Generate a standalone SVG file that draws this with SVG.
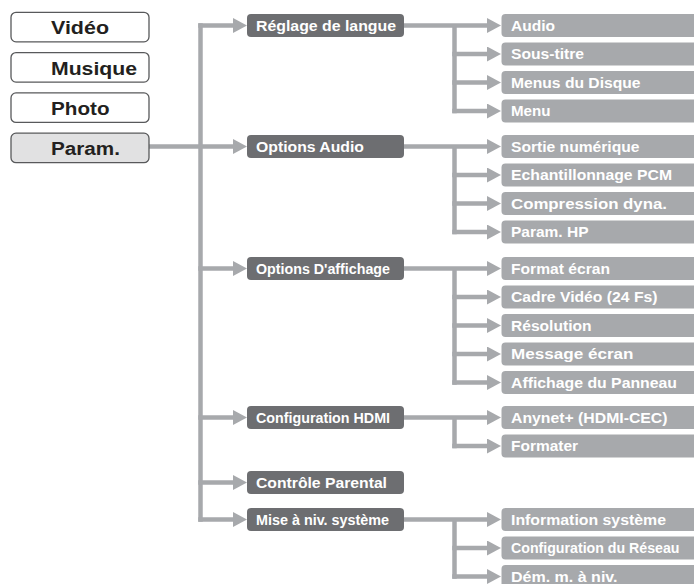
<svg xmlns="http://www.w3.org/2000/svg" width="694" height="584" viewBox="0 0 694 584">
<defs>
<marker id="ah" markerUnits="userSpaceOnUse" markerWidth="14" markerHeight="15" refX="0" refY="7.5" orient="auto">
<path d="M0,0 L14,7.5 L0,15 Z" fill="#a7a9ac"/>
</marker>
<style>
.ln{fill:none;stroke:#a7a9ac;stroke-width:4.5}
.ar{marker-end:url(#ah)}
.lb{fill:#ffffff;stroke:#58595b;stroke-width:1.3}
.lb.sel{fill:#e1e1e2}
.lt{font-family:"Liberation Sans",Arial,sans-serif;font-weight:bold;font-size:17.5px;fill:#231f20}
.mb{fill:#6d6e71}
.rb{fill:#a7a9ac}
.wt{font-family:"Liberation Sans",Arial,sans-serif;font-weight:bold;font-size:14px;fill:#ffffff}
</style>
</defs>
<rect width="694" height="584" fill="#ffffff"/>

<g id="connectors">
<path class="ln" d="M200.5,23.25 V521.75"/>
<path class="ln ar" d="M198.25,25.5 H233"/>
<path class="ln ar" d="M149,146.5 H233"/>
<path class="ln ar" d="M198.25,268.5 H233"/>
<path class="ln ar" d="M198.25,417.5 H233"/>
<path class="ln ar" d="M198.25,482.5 H233"/>
<path class="ln ar" d="M198.25,519.5 H233"/>

<path class="ln" d="M454.5,25.5 V113.25"/>
<path class="ln ar" d="M404,25.5 H487"/>
<path class="ln ar" d="M452.25,54 H487"/>
<path class="ln ar" d="M452.25,82.5 H487"/>
<path class="ln ar" d="M452.25,111 H487"/>

<path class="ln" d="M454.5,146.5 V234.25"/>
<path class="ln ar" d="M404,146.5 H487"/>
<path class="ln ar" d="M452.25,175 H487"/>
<path class="ln ar" d="M452.25,203.5 H487"/>
<path class="ln ar" d="M452.25,232 H487"/>

<path class="ln" d="M454.5,268.5 V384.75"/>
<path class="ln ar" d="M404,268.5 H487"/>
<path class="ln ar" d="M452.25,297 H487"/>
<path class="ln ar" d="M452.25,325.5 H487"/>
<path class="ln ar" d="M452.25,354 H487"/>
<path class="ln ar" d="M452.25,382.5 H487"/>

<path class="ln" d="M454.5,417.5 V448.25"/>
<path class="ln ar" d="M404,417.5 H487"/>
<path class="ln ar" d="M452.25,446 H487"/>

<path class="ln" d="M454.5,519.5 V578.75"/>
<path class="ln ar" d="M404,519.5 H487"/>
<path class="ln ar" d="M452.25,548 H487"/>
<path class="ln ar" d="M452.25,576.5 H487"/>
</g>

<g id="video"><rect class="lb" x="11" y="12.3" width="138" height="29.5" rx="5"/><text class="lt" x="51" y="34.3" textLength="58" lengthAdjust="spacingAndGlyphs">Vidéo</text></g>
<g id="musique"><rect class="lb" x="11" y="52.6" width="138" height="29.5" rx="5"/><text class="lt" x="51" y="74.6" textLength="86" lengthAdjust="spacingAndGlyphs">Musique</text></g>
<g id="photo"><rect class="lb" x="11" y="92.9" width="138" height="29.5" rx="5"/><text class="lt" x="51" y="114.9" textLength="58.5" lengthAdjust="spacingAndGlyphs">Photo</text></g>
<g id="param"><rect class="lb sel" x="11" y="133.2" width="138" height="29.5" rx="5"/><text class="lt" x="51" y="155.2" textLength="69" lengthAdjust="spacingAndGlyphs">Param.</text></g>

<g id="reglage-langue"><rect class="mb" x="247" y="14" width="157" height="23" rx="4"/><text class="wt" x="256" y="30.7" textLength="140" lengthAdjust="spacingAndGlyphs">Réglage de langue</text></g>
<g id="options-audio"><rect class="mb" x="247" y="135" width="157" height="23" rx="4"/><text class="wt" x="256" y="151.7" textLength="108" lengthAdjust="spacingAndGlyphs">Options Audio</text></g>
<g id="options-affichage"><rect class="mb" x="247" y="257" width="157" height="23" rx="4"/><text class="wt" x="256" y="273.7" textLength="134" lengthAdjust="spacingAndGlyphs">Options D'affichage</text></g>
<g id="config-hdmi"><rect class="mb" x="247" y="406" width="157" height="23" rx="4"/><text class="wt" x="256" y="422.7" textLength="134" lengthAdjust="spacingAndGlyphs">Configuration HDMI</text></g>
<g id="controle-parental"><rect class="mb" x="247" y="471" width="157" height="23" rx="4"/><text class="wt" x="256" y="487.7" textLength="131" lengthAdjust="spacingAndGlyphs">Contrôle Parental</text></g>
<g id="mise-a-niv"><rect class="mb" x="247" y="508" width="157" height="23" rx="4"/><text class="wt" x="256" y="524.7" textLength="133" lengthAdjust="spacingAndGlyphs">Mise à niv. système</text></g>

<g id="audio"><rect class="rb" x="501.5" y="14" width="210" height="23" rx="4"/><text class="wt" x="511" y="30.5" textLength="44" lengthAdjust="spacingAndGlyphs">Audio</text></g>
<g id="sous-titre"><rect class="rb" x="501.5" y="42.5" width="210" height="23" rx="4"/><text class="wt" x="511" y="59" textLength="73" lengthAdjust="spacingAndGlyphs">Sous-titre</text></g>
<g id="menus-disque"><rect class="rb" x="501.5" y="71" width="210" height="23" rx="4"/><text class="wt" x="511" y="87.5" textLength="129.5" lengthAdjust="spacingAndGlyphs">Menus du Disque</text></g>
<g id="menu"><rect class="rb" x="501.5" y="99.5" width="210" height="23" rx="4"/><text class="wt" x="511" y="116" textLength="39.5" lengthAdjust="spacingAndGlyphs">Menu</text></g>

<g id="sortie-numerique"><rect class="rb" x="501.5" y="135" width="210" height="23" rx="4"/><text class="wt" x="511" y="151.5" textLength="128.5" lengthAdjust="spacingAndGlyphs">Sortie numérique</text></g>
<g id="echantillonnage"><rect class="rb" x="501.5" y="163.5" width="210" height="23" rx="4"/><text class="wt" x="511" y="180" textLength="161" lengthAdjust="spacingAndGlyphs">Echantillonnage PCM</text></g>
<g id="compression"><rect class="rb" x="501.5" y="192" width="210" height="23" rx="4"/><text class="wt" x="511" y="208.5" textLength="156" lengthAdjust="spacingAndGlyphs">Compression dyna.</text></g>
<g id="param-hp"><rect class="rb" x="501.5" y="220.5" width="210" height="23" rx="4"/><text class="wt" x="511" y="237" textLength="77.5" lengthAdjust="spacingAndGlyphs">Param. HP</text></g>

<g id="format-ecran"><rect class="rb" x="501.5" y="257" width="210" height="23" rx="4"/><text class="wt" x="511" y="273.5" textLength="99" lengthAdjust="spacingAndGlyphs">Format écran</text></g>
<g id="cadre-video"><rect class="rb" x="501.5" y="285.5" width="210" height="23" rx="4"/><text class="wt" x="511" y="302" textLength="146.5" lengthAdjust="spacingAndGlyphs">Cadre Vidéo (24 Fs)</text></g>
<g id="resolution"><rect class="rb" x="501.5" y="314" width="210" height="23" rx="4"/><text class="wt" x="511" y="330.5" textLength="80.5" lengthAdjust="spacingAndGlyphs">Résolution</text></g>
<g id="message-ecran"><rect class="rb" x="501.5" y="342.5" width="210" height="23" rx="4"/><text class="wt" x="511" y="359" textLength="122.5" lengthAdjust="spacingAndGlyphs">Message écran</text></g>
<g id="affichage-panneau"><rect class="rb" x="501.5" y="371" width="210" height="23" rx="4"/><text class="wt" x="511" y="387.5" textLength="166" lengthAdjust="spacingAndGlyphs">Affichage du Panneau</text></g>

<g id="anynet"><rect class="rb" x="501.5" y="406" width="210" height="23" rx="4"/><text class="wt" x="511" y="422.5" textLength="156.5" lengthAdjust="spacingAndGlyphs">Anynet+ (HDMI-CEC)</text></g>
<g id="formater"><rect class="rb" x="501.5" y="434.5" width="210" height="23" rx="4"/><text class="wt" x="511" y="451" textLength="67" lengthAdjust="spacingAndGlyphs">Formater</text></g>

<g id="information-systeme"><rect class="rb" x="501.5" y="508" width="210" height="23" rx="4"/><text class="wt" x="511" y="524.5" textLength="155" lengthAdjust="spacingAndGlyphs">Information système</text></g>
<g id="config-reseau"><rect class="rb" x="501.5" y="536.5" width="210" height="23" rx="4"/><text class="wt" x="511" y="553" textLength="168.5" lengthAdjust="spacingAndGlyphs">Configuration du Réseau</text></g>
<g id="dem-maj"><rect class="rb" x="501.5" y="565" width="210" height="23" rx="4"/><text class="wt" x="511" y="581.5" textLength="106.5" lengthAdjust="spacingAndGlyphs">Dém. m. à niv.</text></g>
</svg>
